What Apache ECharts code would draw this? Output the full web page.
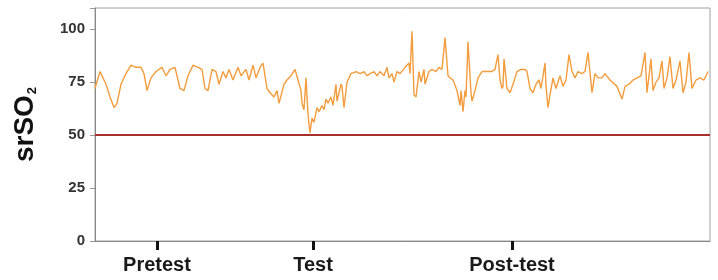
<!DOCTYPE html>
<html>
<head>
<meta charset="utf-8">
<script src="https://cdn.jsdelivr.net/npm/echarts@6/dist/echarts.min.js"></script>
<style>html,body{margin:0;padding:0;background:#fff}#c{width:718px;height:280px}</style>
</head>
<body>
<div id="c"></div>
<script>
// sample time (arbitrary units along recording)
const sampleTimes = [0,5,8,11,15,19,22,26,31,36,41,46,49,52,56,61,67,71,75,80,85,89,93,98,103,107,110,113,117,121,124,128,131,134,138,143,146,151,154,158,161,165,168,172,175,179,182,184,189,192,196,200,203,206,207,209,211,213,214,215,217,219,222,224,227,229,231,233,236,238,241,242,246,247,249,252,256,261,265,269,272,275,279,282,285,289,292,294,297,299,302,305,310,314,315,317,319,321,324,326,329,330,334,337,341,344,347,350,353,355,358,362,365,366,368,370,371,373,376,377,380,383,387,392,397,400,403,405,407,408,409,412,415,418,422,426,430,432,435,438,441,444,446,450,451,453,455,458,461,465,468,471,474,477,480,483,487,490,493,497,500,503,507,510,515,522,527,530,534,538,542,546,550,552,556,558,561,564,567,569,572,575,578,581,585,588,591,594,597,601,605,609,613];
// srSO2 values (%)
const srso2Values = [72,80,77,74,68,63,65,74,79,83,82,82,79,71,77,80,82,78,81,82,72,71,78,83,82,81,72,71,81,80,74,80,77,81,76,82,78,81,76,83,77,82,84,72,70,68,71,65,74,76,78,81,76,71,65,62,77,60,55,51,58,56,63,61,64,62,67,65,68,64,74,66,74,73,63,75,79,80,79,80,78,79,80,78,80,78,82,77,79,75,80,79,82,84,79,99,69,68,80,75,81,74,80,81,80,82,81,96,78,77,76,71,64,71,61,71,68,94,70,66,71,77,80,80,80,81,88,76,72,73,86,72,70,74,80,81,81,80,72,70,74,76,72,84,73,63,69,77,72,78,73,76,88,80,77,80,79,80,89,70,79,77,77,79,76,73,67,73,74,76,77,78,89,70,86,71,75,77,85,72,77,87,72,76,85,70,75,89,72,76,77,76,80];
const thresholdValue = 50;
const phaseLabels = ['Pretest','Test','Post-test'];
const phaseTimes = [62,218,417];
const yTicks = [0,25,50,75,100];

const seriesData = sampleTimes.map((t,i)=>[t, srso2Values[i]]);
const chart = echarts.init(document.getElementById('c'), null, {renderer:'canvas'});
chart.setOption({
  animation:false,
  grid:{left:95,right:8,top:8,bottom:39,show:true,borderColor:'#a0a0a0',borderWidth:1,backgroundColor:'transparent'},
  xAxis:{
    type:'value',min:0,max:615,
    axisLine:{show:true,lineStyle:{color:'#888',width:1}},
    splitLine:{show:false},
    axisTick:{show:true,customValues:phaseTimes,length:9,lineStyle:{color:'#111',width:3}},
    axisLabel:{customValues:phaseTimes,margin:14,color:'#1a1a1a',fontWeight:'bold',fontSize:20,fontFamily:'Liberation Sans',
      formatter:v=>{const i=phaseTimes.indexOf(v);return i>=0?phaseLabels[i]:'';}}
  },
  yAxis:{
    type:'value',min:0,max:110,interval:25,
    name:'{a|srSO}{b|2}',nameLocation:'middle',nameGap:56,nameRotate:90,
    nameTextStyle:{rich:{a:{fontSize:28,fontWeight:'bold',color:'#111',fontFamily:'Liberation Sans'},b:{fontSize:13,fontWeight:'bold',color:'#111',fontFamily:'Liberation Sans',padding:[14,0,0,1]}}},
    axisLine:{show:true,lineStyle:{color:'#888',width:1}},
    axisTick:{show:true,length:5,lineStyle:{color:'#999'}},
    splitLine:{show:false},
    axisLabel:{margin:10,color:'#333',fontWeight:'bold',fontSize:15,fontFamily:'Liberation Sans',
      formatter:v=>yTicks.indexOf(v)>=0?String(v):''}
  },
  series:[{
    type:'line',data:seriesData,showSymbol:false,symbol:'none',
    lineStyle:{color:'#f39c3e',width:1.4},
    markLine:{silent:true,symbol:'none',label:{show:false},
      lineStyle:{color:'#a8302c',width:2,type:'solid'},
      data:[{yAxis:thresholdValue}]}
  }]
});
</script>
</body>
</html>
